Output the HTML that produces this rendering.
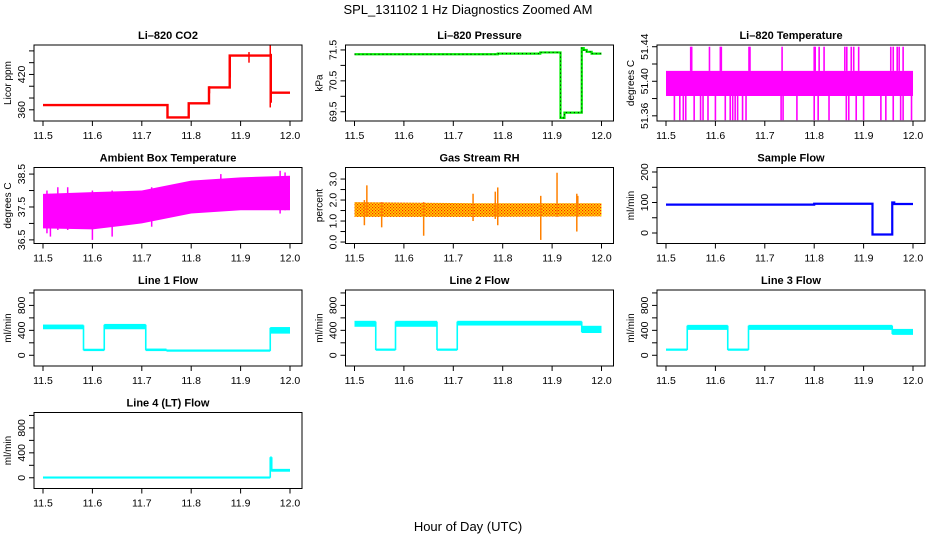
<!DOCTYPE html>
<html><head><meta charset="utf-8">
<style>
html,body{margin:0;padding:0;background:#fff;}
svg{display:block;font-family:"Liberation Sans",sans-serif;}
</style></head>
<body>
<svg id="chart" width="936" height="540" viewBox="0 0 936 540" xmlns="http://www.w3.org/2000/svg">
<defs>
<pattern id="rhpat" width="3" height="3" patternUnits="userSpaceOnUse">
<rect width="3" height="3" fill="#ffd400"/>
<rect x="0" y="0" width="1.2" height="1.2" fill="#ff2000"/>
<rect x="1.5" y="1.5" width="1.2" height="1.2" fill="#ff2000"/>
</pattern>
</defs>
<text x="468" y="14" font-size="13" text-anchor="middle">SPL_131102 1 Hz Diagnostics Zoomed AM</text>
<text x="468" y="531" font-size="13" text-anchor="middle">Hour of Day (UTC)</text>
</svg>
<script>
// ---- data ----
const xTicks = [11.5, 11.6, 11.7, 11.8, 11.9, 12.0];
const xTickLabels = ["11.5", "11.6", "11.7", "11.8", "11.9", "12.0"];

const co2Times = [11.5, 11.752, 11.795, 11.836, 11.878, 11.961, 12.0];
const co2Values = [368, 347, 371, 398, 452, 389];
const co2SpikeT = [11.96, 11.962, 11.917, 11.879, 11.837];
const co2SpikeLo = [364, 372, 440, 415, 388];
const co2SpikeHi = [470, 455, 458, 452, 400];

const presTimes = [11.5, 11.79, 11.876, 11.917, 11.925, 11.96, 11.964, 11.97, 11.98, 12.0];
const presValues = [71.36, 71.38, 71.42, 69.3, 69.47, 71.56, 71.5, 71.44, 71.38];

const ltBandT = [11.5, 12.0];
const ltBandLo = [51.383, 51.383];
const ltBandHi = [51.412, 51.412];
const ltUpT = [11.55, 11.552, 11.588, 11.61, 11.612, 11.668, 11.67, 11.735, 11.80, 11.802, 11.81, 11.82, 11.862, 11.866, 11.875, 11.88, 11.89, 11.955, 11.96, 11.968, 11.972, 11.98];
const ltDownT = [11.517, 11.528, 11.535, 11.54, 11.557, 11.57, 11.575, 11.585, 11.60, 11.62, 11.63, 11.635, 11.64, 11.645, 11.655, 11.662, 11.733, 11.737, 11.765, 11.80, 11.808, 11.83, 11.865, 11.87, 11.885, 11.90, 11.935, 11.945, 11.96, 11.975, 11.98, 11.997];
const ltUpValue = 51.44;
const ltDownValue = 51.355;

const ambT = [11.5, 11.6, 11.7, 11.8, 11.9, 12.0];
const ambLo = [36.85, 36.82, 37.0, 37.3, 37.4, 37.4];
const ambHi = [37.9, 37.95, 38.0, 38.3, 38.4, 38.45];
const ambSpikeT = [11.508, 11.515, 11.53, 11.6, 11.64, 11.72, 11.86, 11.98, 11.99, 11.55];
const ambSpikeLo = [36.7, 36.6, 36.8, 36.5, 36.6, 36.9, 37.4, 37.3, 37.4, 36.8];
const ambSpikeHi = [38.0, 37.9, 38.1, 38.0, 38.0, 38.1, 38.5, 38.6, 38.55, 38.1];

const rhT = [11.5, 11.75, 12.0];
const rhLo = [1.2, 1.2, 1.22];
const rhHi = [1.9, 1.85, 1.85];
const rhSpikeT = [11.52, 11.525, 11.555, 11.64, 11.74, 11.785, 11.79, 11.877, 11.91, 11.95, 11.952];
const rhSpikeLo = [0.8, 1.2, 0.7, 0.3, 1.0, 1.1, 0.8, 0.1, 1.2, 0.5, 1.2];
const rhSpikeHi = [2.0, 2.7, 1.9, 1.9, 2.3, 2.4, 2.6, 2.2, 3.3, 2.3, 2.2];

const sfTimes = [11.5, 11.8, 11.918, 11.958, 11.962, 12.0];
const sfValues = [93, 96, -5, 100, 95];

const l1Times = [11.5, 11.582, 11.624, 11.708, 11.75, 11.96, 12.0];
const l1Lo = [430, 80, 430, 80, 70, 360];
const l1Hi = [480, 92, 490, 95, 80, 440];
const l2Times = [11.5, 11.543, 11.583, 11.667, 11.708, 11.96, 12.0];
const l2Lo = [470, 85, 470, 85, 490, 370];
const l2Hi = [540, 95, 540, 95, 540, 460];
const l3Times = [11.5, 11.543, 11.625, 11.667, 11.958, 12.0];
const l3Lo = [85, 420, 85, 420, 340];
const l3Hi = [95, 475, 95, 475, 410];
const l4Times = [11.5, 11.96, 11.963, 12.0];
const l4Lo = [0, 110, 110];
const l4Hi = [8, 330, 130];

// ---- layout ----
const svg = document.getElementById('chart');
const NS = 'http://www.w3.org/2000/svg';
const colLeft = [34, 345.5, 657];
const rowTop = [45, 167.5, 290, 412.5];
const BW = 268, BH = 76;

function mk(tag, attrs, parent) {
  const e = document.createElementNS(NS, tag);
  for (const k in attrs) e.setAttribute(k, attrs[k]);
  (parent || svg).appendChild(e);
  return e;
}

function panel(name, col, row, title, ylab, dom, ticks, labels) {
  const L = colLeft[col], T = rowTop[row];
  const g = mk('g', {});
  
  
  const xs = t => L + 9 + (t - 11.5) / 0.5 * 247;
  const ys = v => T + BH - (v - dom[0]) / (dom[1] - dom[0]) * BH;
  const tt = mk('text', {x: L + BW / 2, y: T - 6, 'font-size': 11, 'font-weight': 'bold', 'text-anchor': 'middle'}, g);
  tt.textContent = title;
  
  
  const yl = mk('text', {x: 0, y: 0, 'font-size': 10, 'text-anchor': 'middle', transform: `translate(${L - 23},${T + BH / 2}) rotate(-90)`}, g);
  yl.textContent = ylab;
  
  
  const plot = mk('g', {}, g);
  
  
  const ax = mk('g', {stroke: '#000', 'stroke-width': 1}, g);
  
  
  mk('rect', {x: L, y: T, width: BW, height: BH, fill: 'none'}, ax);
  xTicks.forEach((t, i) => {
    mk('line', {x1: xs(t), x2: xs(t), y1: T + BH, y2: T + BH + 5}, ax);
    const tl = mk('text', {x: xs(t), y: T + BH + 18, 'font-size': 10.5, 'text-anchor': 'middle', stroke: 'none'}, g);
    tl.textContent = xTickLabels[i];
    
    
  });
  ticks.forEach(v => {
    mk('line', {x1: L, x2: L - 5, y1: ys(v), y2: ys(v)}, ax);
  });
  labels.forEach(lb => {
    const tl = mk('text', {x: 0, y: 0, 'font-size': 10.5, 'text-anchor': 'middle', transform: `translate(${L - 9},${ys(lb[0])}) rotate(-90)`}, g);
    tl.textContent = lb[1];
    
    
  });
  return {xs, ys, plot, name};
}

function stepLine(p, times, vals, color, w, extra) {
  let d = `M${p.xs(times[0])},${p.ys(vals[0])}`;
  for (let i = 0; i < vals.length; i++) {
    d += ` L${p.xs(times[i + 1])},${p.ys(vals[i])}`;
    if (i + 1 < vals.length) d += ` L${p.xs(times[i + 1])},${p.ys(vals[i + 1])}`;
  }
  const e = mk('path', Object.assign({d, fill: 'none', stroke: color, 'stroke-width': w}, extra || {}), p.plot);
  
  
}

function stepBands(p, times, lo, hi, color) {
  for (let i = 0; i < lo.length; i++) {
    const x0 = p.xs(times[i]), x1 = p.xs(times[i + 1]);
    const y0 = p.ys(hi[i]), y1 = p.ys(lo[i]);
    const r = mk('rect', {x: x0, y: y0 - 0.8, width: x1 - x0, height: Math.max(1.6, y1 - y0 + 1.6), fill: color}, p.plot);
    
    
    if (i + 1 < lo.length) {
      const a = Math.min(lo[i], lo[i + 1]), b = Math.max(hi[i], hi[i + 1]);
      const c = mk('line', {x1: x1, x2: x1, y1: p.ys(a), y2: p.ys(b), stroke: color, 'stroke-width': 1.6}, p.plot);
      
      
    }
  }
}

function band(p, t, lo, hi, fill) {
  let d = '';
  t.forEach((v, i) => d += (i ? ' L' : 'M') + p.xs(v) + ',' + p.ys(hi[i]));
  for (let i = t.length - 1; i >= 0; i--) d += ' L' + p.xs(t[i]) + ',' + p.ys(lo[i]);
  const e = mk('path', {d: d + 'Z', fill}, p.plot);
  
  
}

function spikes(p, t, lo, hi, color, w) {
  t.forEach((v, i) => {
    const e = mk('line', {x1: p.xs(v), x2: p.xs(v), y1: p.ys(lo[i]), y2: p.ys(hi[i]), stroke: color, 'stroke-width': w}, p.plot);
    
    
  });
}

let p = panel('co2', 0, 0, 'Li\u2013820 CO2', 'Licor ppm', [341, 470], [360, 380, 400, 420, 440, 460], [[360, '360'], [420, '420']]);
stepLine(p, co2Times, co2Values, '#ff0000', 2.4);
spikes(p, co2SpikeT, co2SpikeLo, co2SpikeHi, '#ff0000', 1.5);

p = panel('pressure', 1, 0, 'Li\u2013820 Pressure', 'kPa', [69.2, 71.66], [69.5, 70.0, 70.5, 71.0, 71.5], [[69.5, '69.5'], [70.5, '70.5'], [71.5, '71.5']]);
stepLine(p, presTimes, presValues, '#00ee00', 2.2);
stepLine(p, presTimes, presValues, '#000', 1, {'stroke-dasharray': '1,3'});

p = panel('li820-temp', 2, 0, 'Li\u2013820 Temperature', 'degrees C', [51.354, 51.442], [51.36, 51.38, 51.40, 51.42, 51.44], [[51.36, '51.36'], [51.40, '51.40'], [51.44, '51.44']]);
band(p, ltBandT, ltBandLo, ltBandHi, '#ff00ff');
spikes(p, ltUpT, ltUpT.map(() => ltBandHi[0]), ltUpT.map(() => ltUpValue), '#ff00ff', 1.6);
spikes(p, ltDownT, ltDownT.map(() => ltBandLo[0]), ltDownT.map(() => ltDownValue), '#ff00ff', 1.6);

p = panel('ambient-temp', 0, 1, 'Ambient Box Temperature', 'degrees C', [36.39, 38.70], [36.5, 37.0, 37.5, 38.0, 38.5], [[36.5, '36.5'], [37.5, '37.5'], [38.5, '38.5']]);
band(p, ambT, ambLo, ambHi, '#ff00ff');
spikes(p, ambSpikeT, ambSpikeLo, ambSpikeHi, '#ff00ff', 1.5);

p = panel('gas-rh', 1, 1, 'Gas Stream RH', 'percent', [-0.07, 3.55], [0, 0.5, 1, 1.5, 2, 2.5, 3], [[0, '0.0'], [1, '1.0'], [2, '2.0'], [3, '3.0']]);
band(p, rhT, rhLo, rhHi, 'url(#rhpat)');
spikes(p, rhSpikeT, rhSpikeLo, rhSpikeHi, '#ff8000', 1.5);

p = panel('sample-flow', 2, 1, 'Sample Flow', 'ml/min', [-34.4, 214.8], [0, 50, 100, 150, 200], [[0, '0'], [100, '100'], [200, '200']]);
stepLine(p, sfTimes, sfValues, '#0000ff', 2.2);

const flowTicks = [0, 200, 400, 600, 800, 1000];
const flowLabels = [[0, '0'], [400, '400'], [800, '800']];
p = panel('line1-flow', 0, 2, 'Line 1 Flow', 'ml/min', [-172, 1047], flowTicks, flowLabels);
stepBands(p, l1Times, l1Lo, l1Hi, '#00ffff');
p = panel('line2-flow', 1, 2, 'Line 2 Flow', 'ml/min', [-172, 1047], flowTicks, flowLabels);
stepBands(p, l2Times, l2Lo, l2Hi, '#00ffff');
p = panel('line3-flow', 2, 2, 'Line 3 Flow', 'ml/min', [-172, 1047], flowTicks, flowLabels);
stepBands(p, l3Times, l3Lo, l3Hi, '#00ffff');
p = panel('line4-flow', 0, 3, 'Line 4 (LT) Flow', 'ml/min', [-172, 1047], flowTicks, flowLabels);
stepBands(p, l4Times, l4Lo, l4Hi, '#00ffff');
</script>
</body></html>
